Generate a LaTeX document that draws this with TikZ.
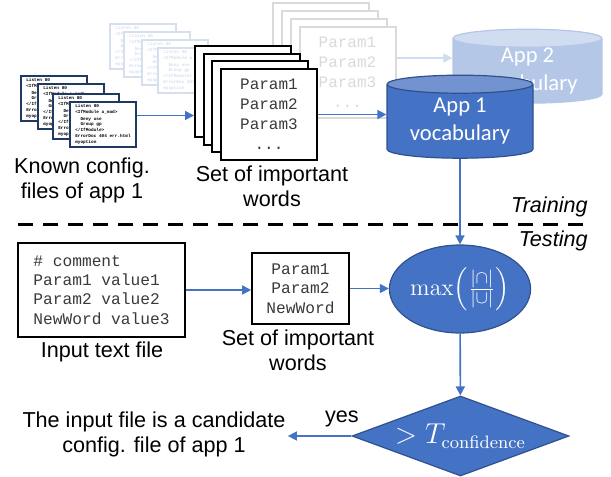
\documentclass[tikz,border=0pt]{standalone}
\usepackage[no-math]{fontspec}
\setmainfont{Liberation Sans}
\setmonofont{Liberation Mono}
\newfontfamily\calibfont{Carlito}
\usepackage{amsmath}
\usetikzlibrary{arrows.meta, positioning, shapes.geometric, calc}
\definecolor{flowblue}{HTML}{4472C4}
\definecolor{bordblue}{HTML}{2F528F}
\definecolor{capblue}{HTML}{7393D0}
\definecolor{fadebody}{HTML}{B4C7E7}
\definecolor{fadecap}{HTML}{D0DCF0}
\definecolor{fadeline}{HTML}{D0DCF0}
\definecolor{fadegray}{HTML}{DADADA}
\definecolor{fadenavy}{HTML}{D6DFEE}
\definecolor{navy}{HTML}{203864}
\definecolor{codegray}{HTML}{3A3A3A}

\newcommand{\cfglines}{Listen 80\\<IfModule a\_mod>\\[0.5pt]
  \ \ Deny use\\\ \ Group gp\\</IfModule>\\[0.5pt]
  ErrorDoc 404 err.html\\myoption}

\begin{document}
\begin{tikzpicture}[x=0.5pt, y=-0.5pt,
    lbl/.style={font=\fontsize{10.8}{12.5}\selectfont, align=center, inner sep=1pt},
    cfgdoc/.style={draw=navy, line width=1pt, fill=white, inner sep=0pt,
      minimum width=33pt, minimum height=22.5pt, align=left,
      font=\fontsize{2.2}{2.8}\selectfont\ttfamily\bfseries},
    cfgfade/.style={cfgdoc, draw=fadenavy, text=fadenavy},
    wordpage/.style={draw, line width=1pt, fill=white, minimum width=48pt,
      minimum height=45.5pt, align=center, inner sep=0pt,
      font=\fontsize{8}{10}\selectfont\ttfamily, text=codegray},
    wordfade/.style={wordpage, draw=fadegray, text=fadegray},
    codebox/.style={draw, line width=0.8pt, fill=white, inner sep=0pt,
      font=\fontsize{8.1}{9.7}\selectfont\ttfamily, text=codegray},
    vocab/.style={cylinder, shape border rotate=90, aspect=0.18,
      cylinder uses custom fill, cylinder body fill=flowblue,
      cylinder end fill=capblue, draw=bordblue, line width=0.6pt,
      text=white, align=center, inner sep=0pt,
      font=\calibfont\fontsize{11.3}{14}\selectfont},
    flow/.style={-{Triangle[length=4.5pt,width=4.5pt]}, line width=0.8pt, flowblue},
  ]
  \useasboundingbox (0,0) rectangle (611,477);

  % faded part: the other application
  \node[cfgfade] (fcfgA) at (143,46.5) {\cfglines};
  \node[cfgfade] (fcfgB) at (157,54.5) {\cfglines};
  \node[cfgfade] (fcfgC) at (175,62.5) {\cfglines};
  \node[cfgfade] (fcfgD) at (191,70.5) {\cfglines};
  \node[wordfade] (fsetA) at (320.5,48.5) {};
  \node[wordfade] (fsetB) at (329.5,56.5) {};
  \node[wordfade] (fsetC) at (338.5,64.5) {};
  \node[wordfade] (fsetD) at (347.5,72.5) {Param1\\Param2\\Param3\\...};
  \node[vocab, minimum width=74.5pt, minimum height=36pt,
    cylinder body fill=fadebody, cylinder end fill=fadecap, draw=fadebody]
    (app2) at (527.5,71) {App 2\\vocabulary};
  \draw[flow, fadeline] ([yshift=7.25pt]fsetD.east) -- ([yshift=7.25pt]fsetD.east -| app2.west);

  % training
  \node[cfgdoc] (cfgA) at (54,98.5) {\cfglines};
  \node[cfgdoc] (cfgB) at (71,106.5) {\cfglines};
  \node[cfgdoc] (cfgC) at (86,116.5) {\cfglines};
  \node[cfgdoc] (cfgD) at (103,124.5) {\cfglines};
  \node[lbl] (cfglbl) at (82,180) {Known config.\\files of app 1};

  \node[wordpage] (setA) at (243,91.4) {};
  \node[wordpage] (setB) at (251.6,99.1) {};
  \node[wordpage] (setC) at (260.3,106.8) {};
  \node[wordpage] (setD) at (269,114.5) {Param1\\Param2\\Param3\\...};
  \node[lbl] (setlbl) at (272,186) {Set of important\\words};

  \node[vocab, minimum width=73pt, minimum height=41.5pt] (app1) at (460,121.5) {App 1\\vocabulary};

  \draw[flow] ([yshift=4.5pt]cfgD.east) -- ([yshift=4.5pt]cfgD.east -| setA.west);
  \draw[flow] (setD.east) -- (setD.east -| app1.west);

  % split between the two phases
  \coordinate (divL) at (18,224);
  \coordinate (divR) at (588,224);
  \draw[line width=1.5pt, dash pattern=on 7.5pt off 5pt] (divL) -- (divR);
  \node[lbl, anchor=east, font=\fontsize{10.8}{12.5}\selectfont\itshape] (trainlbl) at (590,207) {Training};
  \node[lbl, anchor=east, font=\fontsize{10.8}{12.5}\selectfont\itshape] (testlbl) at (590,241) {Testing};

  % testing
  \node[codebox, minimum width=83.5pt, minimum height=47pt, align=left] (inbox) at (101.5,290)
    {\# comment\\Param1 value1\\Param2 value2\\NewWord value3};
  \node[lbl] (inlbl) at (102,352) {Input text file};

  \node[codebox, minimum width=48.5pt, minimum height=35.5pt, align=center] (wordbox) at (300.5,288.5)
    {Param1\\Param2\\NewWord};
  \node[lbl] (wordlbl) at (298,350) {Set of important\\words};

  \node[ellipse, fill=flowblue, draw=bordblue, line width=0.6pt, text=white,
    minimum width=53pt, minimum height=44pt, inner sep=0pt,
    font=\fontsize{12.5}{14}\selectfont] (simil) at (460,289)
    {$\max\!\left(\frac{|\cap|}{|\cup|}\right)$};

  \node[diamond, aspect=2.7, fill=flowblue, draw=bordblue, line width=0.6pt, text=white,
    minimum width=108.5pt, minimum height=40pt, inner sep=0pt,
    font=\fontsize{13.5}{15}\selectfont] (thresh) at (460.5,436)
    {$>T_{\mathrm{confidence}}$};

  \node[lbl] (result) at (154,434) {The input file is a candidate\\config. file of app 1};

  \draw[flow] (inbox.east) -- (inbox.east -| wordbox.west);
  \draw[flow] (wordbox.east) -- (wordbox.east -| simil.west);
  \draw[flow] (app1) -- (simil);
  \draw[flow] (simil) -- (thresh);
  \draw[flow] (thresh.west) -- (thresh.west -| result.east)
    node[pos=0.15, above, font=\fontsize{10.8}{12.5}\selectfont, text=black, inner sep=4pt] (yeslbl) {yes};
\end{tikzpicture}
\end{document}
